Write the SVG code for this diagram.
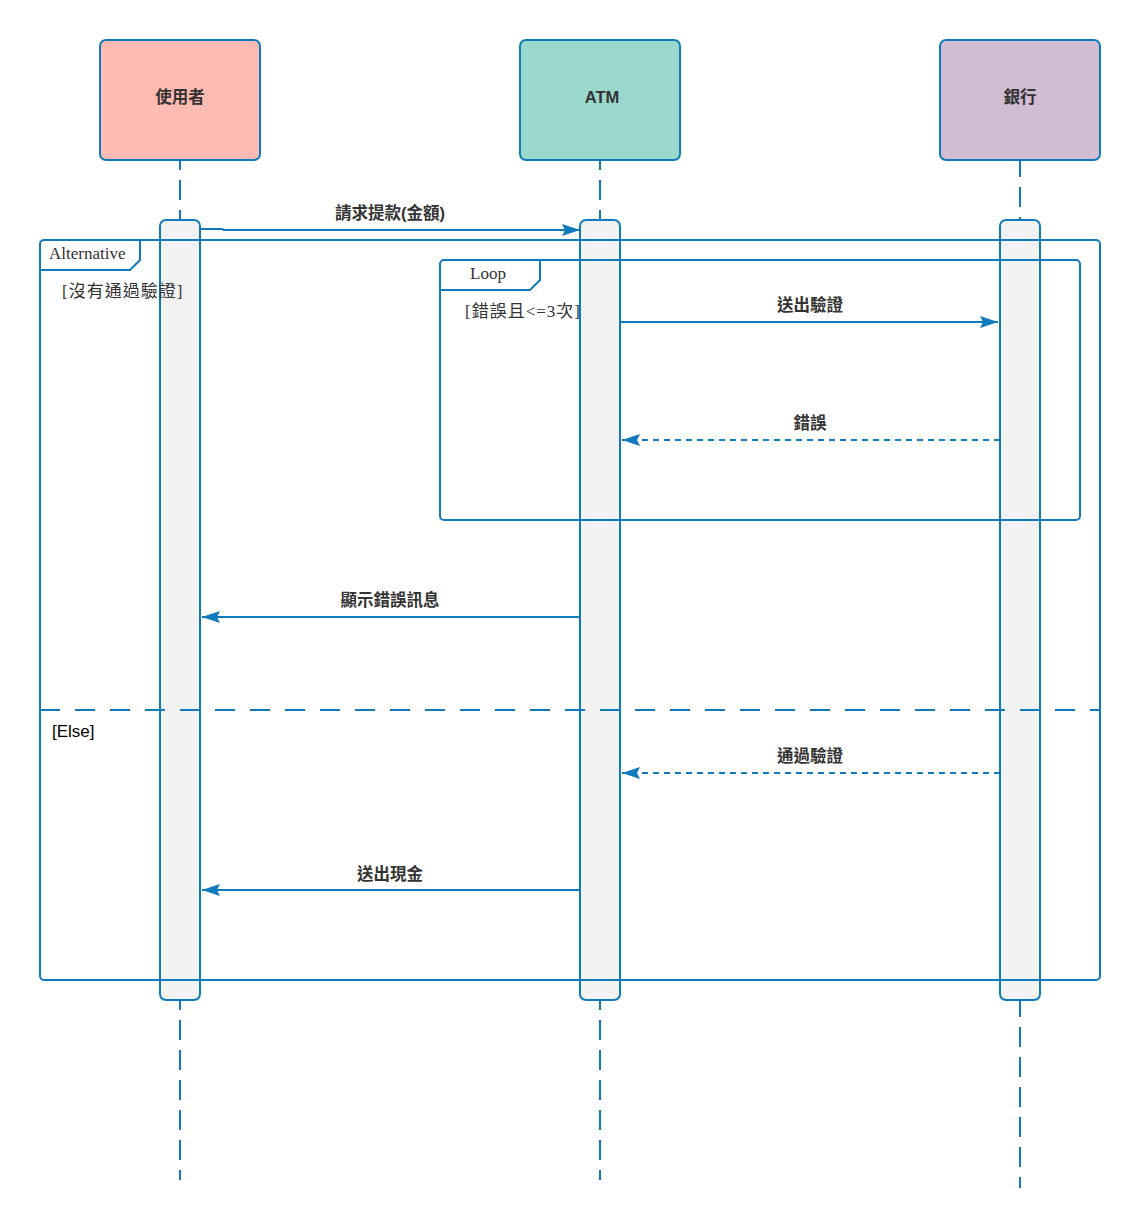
<svg xmlns="http://www.w3.org/2000/svg" width="1140" height="1228" viewBox="0 0 1140 1228">
<defs>
<style>
.hd{stroke:#0f7bbd;stroke-width:2}
.ll{stroke:#0f7bbd;stroke-width:2;stroke-dasharray:20 10;fill:none}
.act{fill:#f2f2f2;stroke:#0f7bbd;stroke-width:2}
.fr{fill:none;stroke:#0f7bbd;stroke-width:2}
.msg{stroke:#0f7bbd;stroke-width:2;fill:none}
.ret{stroke:#0f7bbd;stroke-width:2;fill:none;stroke-dasharray:6 5}
.ht{font-family:"Liberation Sans","Noto Sans CJK TC",sans-serif;font-weight:bold;font-size:16.5px;fill:#333;text-anchor:middle}
.ml{font-family:"Liberation Sans","Noto Sans CJK TC",sans-serif;font-weight:bold;font-size:16.5px;fill:#333;text-anchor:middle}
.ft{font-family:"Liberation Serif","Noto Sans CJK TC",serif;font-size:17px;fill:#333}
.gd{letter-spacing:1px}
.el{font-family:"Liberation Sans","Noto Sans CJK TC",sans-serif;font-size:17px;fill:#000}
</style>
<marker id="ah" markerWidth="20" markerHeight="12" refX="18" refY="6" orient="auto" markerUnits="userSpaceOnUse">
<path d="M0,0 L18,6 L0,12 L3,6 Z" fill="#0f7bbd"/>
</marker>
</defs>
<rect width="1140" height="1228" fill="#fff"/>
<g id="lifelines">
<line class="ll" x1="180" y1="150" x2="180" y2="1180"/>
<line class="ll" x1="600" y1="150" x2="600" y2="1180"/>
<line class="ll" x1="1020" y1="157" x2="1020" y2="1188"/>
</g>
<g id="user">
<rect class="hd" x="100" y="40" width="160" height="120" rx="6" fill="#ffbbb1"/>
<text class="ht" x="180" y="103">使用者</text>
</g>
<g id="atm">
<rect class="hd" x="520" y="40" width="160" height="120" rx="6" fill="#9ad7cc"/>
<text class="ht" x="602" y="103">ATM</text>
</g>
<g id="bank">
<rect class="hd" x="940" y="40" width="160" height="120" rx="6" fill="#d2bcd2"/>
<text class="ht" x="1020" y="103">銀行</text>
</g>
<g id="activations">
<rect class="act" x="160" y="220" width="40" height="780" rx="6"/>
<rect class="act" x="580" y="220" width="40" height="780" rx="6"/>
<rect class="act" x="1000" y="220" width="40" height="780" rx="6"/>
</g>
<g id="alt-frame">
<rect class="fr" x="40" y="240" width="1060" height="740" rx="4"/>
<path class="fr" d="M40,270 H130 L140,260 V240"/>
<text class="ft" x="49" y="259">Alternative</text>
<text class="ft gd" x="62" y="297">[沒有通過驗證]</text>
<line class="fr" x1="40" y1="710" x2="1100" y2="710" stroke-dasharray="20 15"/>
<text class="el" x="52" y="737">[Else]</text>
</g>
<g id="loop-frame">
<rect class="fr" x="440" y="260" width="640" height="260" rx="4"/>
<path class="fr" d="M440,290 H530 L540,280 V260"/>
<text class="ft" x="470" y="279">Loop</text>
<text class="ft gd" x="465" y="317">[錯誤且&lt;=3次]</text>
</g>
<g id="connectors">
<path class="msg" d="M200,229 H222 L224,230 H580" marker-end="url(#ah)"/>
<line class="msg" x1="620" y1="322" x2="998" y2="322" marker-end="url(#ah)"/>
<line class="ret" x1="1000" y1="440" x2="622" y2="440" marker-end="url(#ah)"/>
<line class="msg" x1="580" y1="617" x2="202" y2="617" marker-end="url(#ah)"/>
<line class="ret" x1="1000" y1="773" x2="622" y2="773" marker-end="url(#ah)"/>
<line class="msg" x1="580" y1="890" x2="202" y2="890" marker-end="url(#ah)"/>
<text class="ml" x="390" y="219">請求提款(金額)</text>
<text class="ml" x="810" y="311">送出驗證</text>
<text class="ml" x="810" y="429">錯誤</text>
<text class="ml" x="390" y="606">顯示錯誤訊息</text>
<text class="ml" x="810" y="762">通過驗證</text>
<text class="ml" x="390" y="880">送出現金</text>
</g>
</svg>
